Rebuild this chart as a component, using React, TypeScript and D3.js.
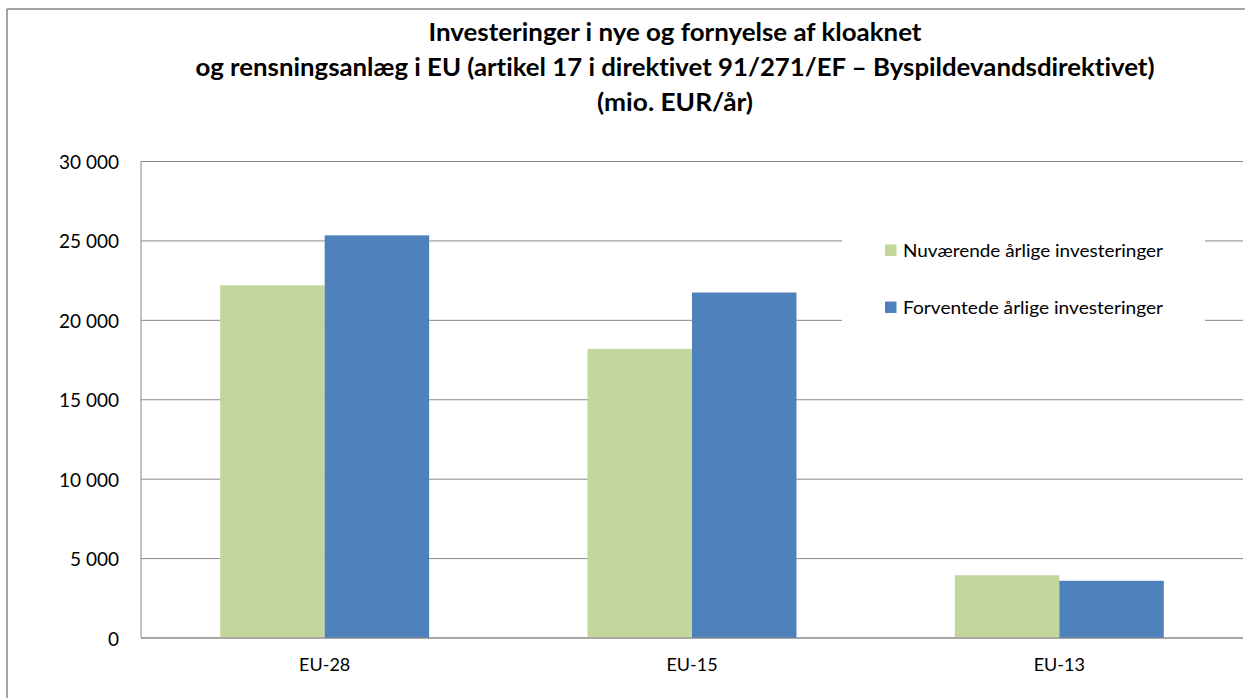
import React from "react";
import * as d3 from "d3";

const categories = ["EU-28", "EU-15", "EU-13"];
const seriesNames = ["Nuværende årlige investeringer", "Forventede årlige investeringer"];
const current = [22200, 18200, 3950];
const expected = [25350, 21750, 3600];
const yTicks = [0, 5000, 10000, 15000, 20000, 25000, 30000];
const titleLines = [
  "Investeringer i nye og fornyelse af kloaknet",
  "og rensningsanlæg i EU (artikel 17 i direktivet 91/271/EF – Byspildevandsdirektivet)",
  "(mio. EUR/år)",
];

const colors = ["#C3D69B", "#4F81BD"];
const W = 1245;
const H = 698;
const plot = { left: 141, right: 1243, top: 161.5, bottom: 638 };

export default function App() {
  const x0 = d3.scaleBand<string>().domain(categories).range([plot.left, plot.right]).padding(0);
  const x1 = d3
    .scaleBand<string>()
    .domain(seriesNames)
    .range([0, x0.bandwidth()])
    .paddingInner(0)
    .paddingOuter(0.758);
  const y = d3.scaleLinear().domain([0, 30000]).range([plot.bottom, plot.top]);
  const loc = d3.formatLocale({ thousands: " ", grouping: [3], decimal: ",", currency: ["", ""] });
  const fmt = loc.format(",d");
  const values = [current, expected];
  const font = "Lato, 'Open Sans', sans-serif";
  const titleWidths = [493, 959, 156];
  const titleY = [31, 66, 101];

  return (
    <svg
      width={W}
      height={H}
      style={{ position: "absolute", left: 0, top: 0, background: "#fff", fontVariantLigatures: "none", fontFeatureSettings: '"liga" 0, "clig" 0' }}
      fontFamily={font}
    >
      <rect x={0} y={0} width={W} height={H} fill="#fff" />
      {/* outer frame */}
      <line x1={7} y1={9} x2={W} y2={9} stroke="#868686" strokeWidth={1.5} />
      <line x1={7} y1={9} x2={7} y2={H} stroke="#868686" strokeWidth={1.5} />

      {/* title */}
      {titleLines.map((t, i) => (
        <text
          key={i}
          x={675}
          y={titleY[i]}
          textAnchor="middle"
          dominantBaseline="central"
          fontSize={24}
          fontWeight="bold"
          fill="#000"
          textLength={titleWidths[i]}
          lengthAdjust="spacingAndGlyphs"
        >
          {t}
        </text>
      ))}

      {/* gridlines */}
      {yTicks.map((t) => (
        <line key={t} x1={plot.left} x2={plot.right} y1={y(t)} y2={y(t)} stroke="#8a8a8a" strokeWidth={1} />
      ))}
      <line x1={plot.left} x2={plot.left} y1={plot.top} y2={plot.bottom} stroke="#8a8a8a" strokeWidth={1} />

      {/* y tick labels */}
      {yTicks.map((t) => (
        <text key={t} x={119} y={y(t)} textAnchor="end" dominantBaseline="central" fontSize={19} fill="#000">
          {fmt(t)}
        </text>
      ))}

      {/* bars */}
      {categories.map((c, ci) => (
        <g key={c} transform={`translate(${x0(c)},0)`}>
          {seriesNames.map((s, si) => (
            <rect
              key={s}
              x={x1(s)}
              y={y(values[si][ci])}
              width={x1.bandwidth()}
              height={y(0) - y(values[si][ci])}
              fill={colors[si]}
            />
          ))}
        </g>
      ))}
      <line x1={plot.left} x2={plot.right} y1={plot.bottom} y2={plot.bottom} stroke="#8a8a8a" strokeWidth={1} />

      {/* x labels */}
      {categories.map((c) => (
        <text
          key={c}
          x={(x0(c) as number) + x0.bandwidth() / 2}
          y={664}
          textAnchor="middle"
          dominantBaseline="central"
          fontSize={18}
          fill="#000"
        >
          {c}
        </text>
      ))}

      {/* legend */}
      <rect x={842} y={228} width={363} height={96} fill="#fff" />
      {seriesNames.map((s, i) => (
        <g key={s} transform={`translate(885,${250 + i * 57})`}>
          <rect x={0} y={-5.5} width={11.5} height={11.5} fill={colors[i]} />
          <text x={18} y={0} dominantBaseline="central" fontSize={18} fill="#000" textLength={260} lengthAdjust="spacingAndGlyphs">
            {s}
          </text>
        </g>
      ))}
    </svg>
  );
}
